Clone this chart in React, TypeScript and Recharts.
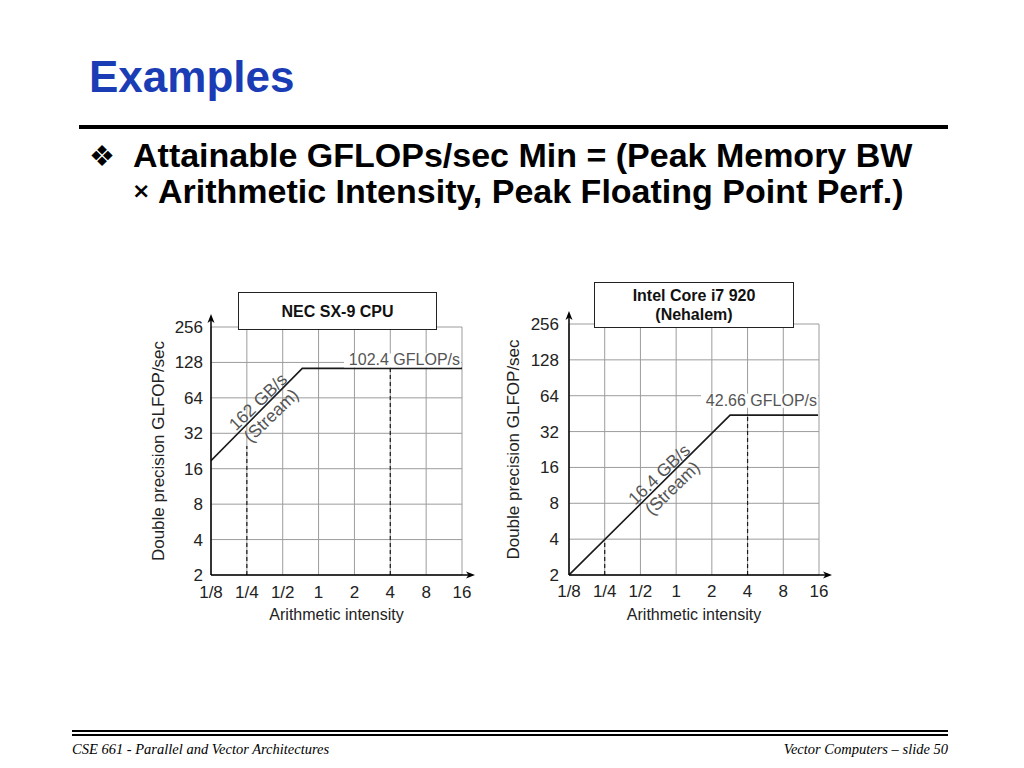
import React from 'react';
import { LineChart, Line, XAxis, YAxis, CartesianGrid, ReferenceDot } from 'recharts';

// axis ticks (log2 spaced)
const xTicks = [0.125, 0.25, 0.5, 1, 2, 4, 8, 16];
const xTickLabels = ['1/8', '1/4', '1/2', '1', '2', '4', '8', '16'];
const yTicks = [2, 4, 8, 16, 32, 64, 128, 256];

// NEC SX-9 roofline
const necRoofX = [0.125, 0.73, 16];
const necRoofY = [18.7, 114, 114];
const necDashX = [0.25, 4];
const necDashTop = [25, 114];

// Intel Core i7 920 roofline
const intelRoofX = [0.125, 2.85, 15.7];
const intelRoofY = [2, 44, 44];
const intelDashX = [0.25, 4];
const intelDashTop = [4, 44];

const FONT = '"Liberation Sans", Arial, Helvetica, sans-serif';
const SERIF = '"Liberation Serif", "Times New Roman", serif';
const INK = '#222';
const NOTE = '#555';

const toPoints = (xs: number[], ys: number[]) => xs.map((x, i) => ({ x, y: ys[i] }));
const xLabel = (v: number) => xTickLabels[xTicks.indexOf(v)] ?? String(v);

const PeakTag = ({ viewBox, text, dy }: any) => {
  const cx = viewBox.x + viewBox.width / 2;
  const cy = viewBox.y + viewBox.height / 2;
  return (
    <g>
      <rect x={cx - 118} y={cy + dy - 12} width={117} height={14} fill="#fff" />
      <text x={cx - 2} y={cy + dy} textAnchor="end" fontSize={16} fill={NOTE}>
        {text}
      </text>
    </g>
  );
};

const SlopeTag = ({ viewBox, lines, angle }: any) => {
  const cx = viewBox.x + viewBox.width / 2;
  const cy = viewBox.y + viewBox.height / 2;
  return (
    <g transform={`translate(${cx},${cy}) rotate(${angle})`}>
      <text x={0} y={-2} textAnchor="middle" fontSize={17.5} fill={NOTE}>
        {lines[0]}
      </text>
      <text x={0} y={17} textAnchor="middle" fontSize={17.5} fill={NOTE}>
        {lines[1]}
      </text>
    </g>
  );
};

interface PanelProps {
  left: number;
  top: number;
  width: number;
  height: number;
  yAxisWidth: number;
  marginTop: number;
  marginRight: number;
  xTickMargin: number;
  yTickMargin: number;
  yLabelOffset: number;
  roofX: number[];
  roofY: number[];
  dashX: number[];
  dashTop: number[];
  peakText: string;
  peakAt: number;
  peakDy: number;
  bwLines: string[];
  bwAt: [number, number];
  bwAngle: number;
}

const RooflinePanel: React.FC<PanelProps> = (p) => {
  const roof = toPoints(p.roofX, p.roofY);
  return (
    <div style={{ position: 'absolute', left: p.left, top: p.top, fontFamily: FONT }}>
      <LineChart
        width={p.width}
        height={p.height}
        margin={{ top: p.marginTop, right: p.marginRight, bottom: 0, left: 0 }}
      >
        <CartesianGrid stroke="#9c9c9c" strokeWidth={1} />
        <XAxis
          type="number"
          dataKey="x"
          scale="log"
          domain={[0.125, 16]}
          ticks={xTicks}
          interval={0}
          allowDataOverflow
          tickFormatter={xLabel}
          height={55}
          tickSize={0}
          tickMargin={p.xTickMargin}
          tick={{ fill: INK, fontSize: 17 }}
          axisLine={{ stroke: '#000', strokeWidth: 1.5, markerEnd: 'url(#axisArrow)' }}
          label={{
            value: 'Arithmetic intensity',
            position: 'insideBottom',
            offset: 10,
            style: { fill: INK, fontSize: 16 },
          }}
        />
        <YAxis
          type="number"
          scale="log"
          domain={[2, 256]}
          ticks={yTicks}
          interval={0}
          allowDataOverflow
          width={p.yAxisWidth}
          tickSize={0}
          tickMargin={p.yTickMargin}
          tick={{ fill: INK, fontSize: 17 }}
          axisLine={{ stroke: '#000', strokeWidth: 1.5, markerStart: 'url(#axisArrow)' }}
          label={{
            value: 'Double precision GLFOP/sec',
            angle: -90,
            position: 'insideLeft',
            offset: p.yLabelOffset,
            style: { textAnchor: 'middle', fill: INK, fontSize: 17 },
          }}
        />
        {p.dashX.map((x, i) => (
          <Line
            key={`dash-${i}`}
            data={[
              { x, y: 2 },
              { x, y: p.dashTop[i] },
            ]}
            dataKey="y"
            type="linear"
            stroke="#1a1a1a"
            strokeWidth={1.2}
            strokeDasharray="4 3"
            dot={false}
            activeDot={false}
            isAnimationActive={false}
          />
        ))}
        <Line
          data={roof}
          dataKey="y"
          type="linear"
          stroke="#1a1a1a"
          strokeWidth={1.6}
          dot={false}
          activeDot={false}
          isAnimationActive={false}
        />
        <ReferenceDot
          x={16}
          y={p.peakAt}
          r={1}
          fill="none"
          stroke="none"
          label={(lp: any) => <PeakTag viewBox={lp.viewBox} text={p.peakText} dy={p.peakDy} />}
        />
        <ReferenceDot
          x={p.bwAt[0]}
          y={p.bwAt[1]}
          r={1}
          fill="none"
          stroke="none"
          label={(lp: any) => <SlopeTag viewBox={lp.viewBox} lines={p.bwLines} angle={p.bwAngle} />}
        />
      </LineChart>
    </div>
  );
};

const TitleBox = ({ left, top, width, height, lines, fontSize }: any) => (
  <div
    style={{
      position: 'absolute',
      left,
      top,
      width,
      height,
      boxSizing: 'border-box',
      border: '1.5px solid #222',
      background: '#fff',
      display: 'flex',
      flexDirection: 'column',
      alignItems: 'center',
      justifyContent: 'center',
      fontFamily: FONT,
      fontWeight: 'bold',
      fontSize,
      lineHeight: '19px',
      color: '#111',
    }}
  >
    {lines.map((l: string) => (
      <div key={l}>{l}</div>
    ))}
  </div>
);

const App: React.FC = () => (
  <div
    style={{
      position: 'absolute',
      left: 0,
      top: 0,
      width: 1024,
      height: 768,
      background: '#fff',
      overflow: 'hidden',
    }}
  >
    <svg width={0} height={0} style={{ position: 'absolute' }}>
      <defs>
        <marker
          id="axisArrow"
          markerUnits="userSpaceOnUse"
          markerWidth={16}
          markerHeight={10}
          viewBox="0 0 16 10"
          refX={0}
          refY={5}
          orient="auto-start-reverse"
        >
          <path d="M0,5 L8,5" stroke="#000" strokeWidth={1.5} />
          <path d="M4,1.5 L13,5 L4,8.5 L6.5,5 Z" fill="#000" />
        </marker>
      </defs>
    </svg>

    <div
      style={{
        position: 'absolute',
        left: 89,
        top: 55,
        fontFamily: FONT,
        fontWeight: 'bold',
        fontSize: 44,
        lineHeight: '44px',
        color: '#1a3cb4',
      }}
    >
      Examples
    </div>
    <div style={{ position: 'absolute', left: 79, top: 125, width: 869, height: 4, background: '#000' }} />

    <div
      style={{
        position: 'absolute',
        left: 89,
        top: 142,
        fontFamily: '"DejaVu Sans", sans-serif',
        fontSize: 29,
        lineHeight: '29px',
        color: '#000',
      }}
    >
      ❖
    </div>
    <div
      style={{
        position: 'absolute',
        left: 133,
        top: 138,
        fontFamily: FONT,
        fontWeight: 'bold',
        fontSize: 34,
        lineHeight: '34px',
        color: '#000',
        whiteSpace: 'nowrap',
      }}
    >
      Attainable GFLOPs/sec Min = (Peak Memory BW
    </div>
    <div
      style={{
        position: 'absolute',
        left: 132,
        top: 180,
        fontFamily: '"DejaVu Sans", sans-serif',
        fontWeight: 'bold',
        fontSize: 22,
        lineHeight: '22px',
        color: '#000',
      }}
    >
      ×
    </div>
    <div
      style={{
        position: 'absolute',
        left: 158,
        top: 174,
        fontFamily: FONT,
        fontWeight: 'bold',
        fontSize: 34,
        lineHeight: '34px',
        color: '#000',
        whiteSpace: 'nowrap',
      }}
    >
      Arithmetic Intensity, Peak Floating Point Perf.)
    </div>

    <RooflinePanel
      left={140}
      top={280}
      width={350}
      height={350}
      yAxisWidth={71}
      marginTop={47}
      marginRight={28}
      xTickMargin={11}
      yTickMargin={8}
      yLabelOffset={18}
      roofX={necRoofX}
      roofY={necRoofY}
      dashX={necDashX}
      dashTop={necDashTop}
      peakText="102.4 GFLOP/s"
      peakAt={128}
      peakDy={3}
      bwLines={['162 GB/s', '(Stream)']}
      bwAt={[0.345, 53]}
      bwAngle={-44}
    />
    <RooflinePanel
      left={500}
      top={280}
      width={340}
      height={350}
      yAxisWidth={69}
      marginTop={44}
      marginRight={21}
      xTickMargin={10}
      yTickMargin={10}
      yLabelOffset={13}
      roofX={intelRoofX}
      roofY={intelRoofY}
      dashX={intelDashX}
      dashTop={intelDashTop}
      peakText="42.66 GFLOP/s"
      peakAt={64}
      peakDy={10}
      bwLines={['16.4 GB/s', '(Stream)']}
      bwAt={[0.8, 12.5]}
      bwAngle={-44}
    />

    <TitleBox left={238} top={292} width={199} height={38} lines={['NEC SX-9 CPU']} fontSize={16} />
    <TitleBox
      left={594}
      top={282}
      width={200}
      height={46}
      lines={['Intel Core i7 920', '(Nehalem)']}
      fontSize={16}
    />

    <div style={{ position: 'absolute', left: 72, top: 730, width: 876, height: 1.5, background: '#000' }} />
    <div style={{ position: 'absolute', left: 72, top: 734, width: 876, height: 1.5, background: '#000' }} />
    <div
      style={{
        position: 'absolute',
        left: 72,
        top: 741,
        fontFamily: SERIF,
        fontStyle: 'italic',
        fontSize: 14.5,
        lineHeight: '16px',
        color: '#000',
      }}
    >
      CSE 661 - Parallel and Vector Architectures
    </div>
    <div
      style={{
        position: 'absolute',
        right: 1024 - 948,
        top: 741,
        fontFamily: SERIF,
        fontStyle: 'italic',
        fontSize: 14.5,
        lineHeight: '16px',
        color: '#000',
      }}
    >
      Vector Computers – slide 50
    </div>
  </div>
);

export default App;
